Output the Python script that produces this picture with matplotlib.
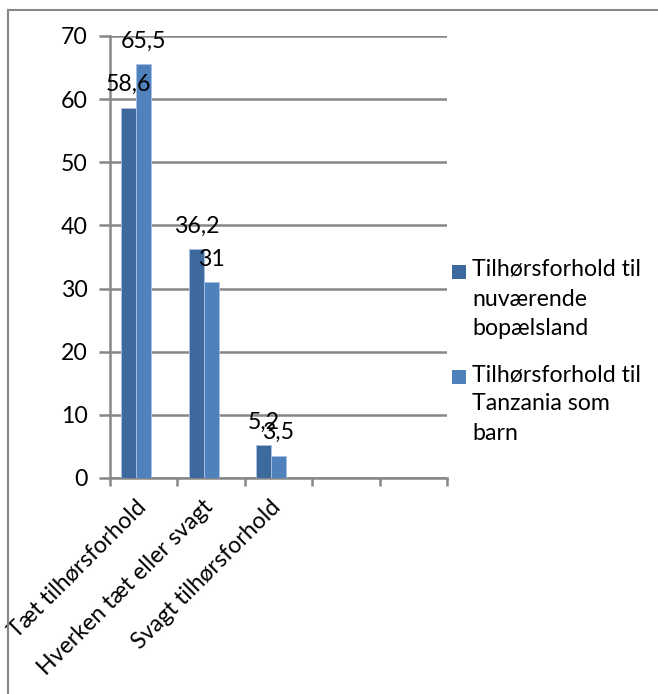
import matplotlib
matplotlib.use("Agg")
import matplotlib.pyplot as plt
from matplotlib.lines import Line2D
from matplotlib.patches import Rectangle
import matplotlib.transforms as mtrans
import numpy as np

categories = ["Tæt tilhørsforhold", "Hverken tæt eller svagt", "Svagt tilhørsforhold", "", ""]
series_names = ["Tilhørsforhold til\nnuværende\nbopælsland", "Tilhørsforhold til\nTanzania som\nbarn"]
values_now = [58.6, 36.2, 5.2]
values_child = [65.5, 31, 3.5]
y_ticks = [0, 10, 20, 30, 40, 50, 60, 70]

colors = ["#3E699D", "#4F81BD"]
grid_c = "#878787"
FONT = "Lato"
FS = 16.7

plt.rcParams["font.family"] = [FONT, "DejaVu Sans"]

W, H = 658, 694
fig = plt.figure(figsize=(W / 100, H / 100), dpi=100)
ax = fig.add_axes([110 / W, (H - 478) / H, 337 / W, 442 / H])

bw = 0.22
off = -0.11
x = np.arange(len(values_now))
for vals, c, shift in [(values_now, colors[0], -bw / 2), (values_child, colors[1], bw / 2)]:
    xs = x + off + shift
    ax.bar(xs, vals, width=bw, color=c, edgecolor="#A9C1E0", linewidth=0.6, zorder=3)
    for xi, v in zip(xs, vals):
        lab = (f"{v:g}").replace(".", ",")
        ax.annotate(lab, (xi, v), xytext=(0, 12), textcoords="offset points",
                    ha="center", va="baseline", fontsize=FS, color="black", zorder=5)

ax.set_xlim(-0.5, len(categories) - 0.5)
ax.set_ylim(0, 70)
ax.set_yticks(y_ticks)
ax.set_yticklabels([str(t) for t in y_ticks], fontsize=FS)
ax.yaxis.grid(True, color=grid_c, linewidth=1.8, zorder=0)
ax.set_axisbelow(True)

# x ticks at category boundaries, labels at centers
ax.set_xticks(np.arange(len(categories) + 1) - 0.5)
ax.set_xticklabels([])
ax.set_xticks(np.arange(len(categories)), minor=True)
ax.set_xticklabels(categories, minor=True, rotation=45, ha="right", va="top", fontsize=FS)
ax.tick_params(axis="x", which="minor", length=0, pad=13)
ax.tick_params(axis="x", which="major", length=6, width=1.8, color=grid_c, direction="out")
ax.tick_params(axis="y", length=8, width=1.8, color=grid_c, pad=8)
for lbl in ax.get_xticklabels(minor=True):
    lbl.set_transform(lbl.get_transform() + mtrans.ScaledTranslation(6 / 100, 0, fig.dpi_scale_trans))

for s in ["top", "right"]:
    ax.spines[s].set_visible(False)
for s in ["left", "bottom"]:
    ax.spines[s].set_color(grid_c)
    ax.spines[s].set_linewidth(1.8)

# legend (manual, first line aligned with marker)
leg_y = [272, 377]
for name, c, yy in zip(series_names, colors, leg_y):
    fig.patches.append(Rectangle((452 / W, 1 - (yy + 7) / H), 14 / W, 14 / H,
                                 transform=fig.transFigure, facecolor=c, edgecolor="none"))
    fig.text(472 / W, 1 - (yy - 13) / H, name, fontsize=FS, ha="left", va="top",
             linespacing=1.5)

# outer frame lines
fig.add_artist(Line2D([8 / W, 8 / W], [0, 1 - 10 / H], transform=fig.transFigure,
                      color=grid_c, linewidth=1.5))
fig.add_artist(Line2D([8 / W, 1], [1 - 10 / H, 1 - 10 / H], transform=fig.transFigure,
                      color=grid_c, linewidth=1.5))

fig.savefig("out.png", dpi=100)
